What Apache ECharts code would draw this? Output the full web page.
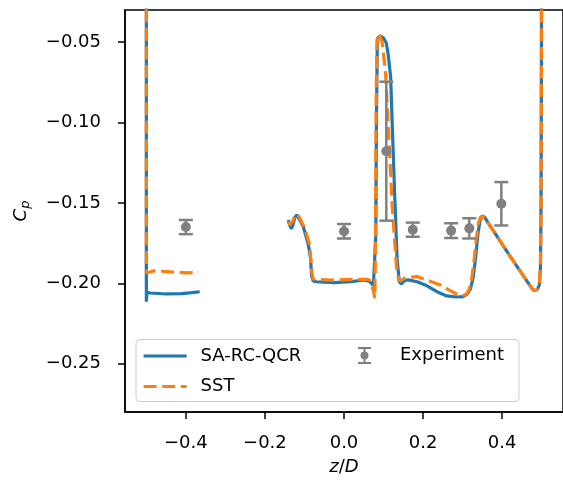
<!DOCTYPE html>
<html>
<head>
<meta charset="utf-8">
<script src="https://cdn.jsdelivr.net/npm/echarts@6/dist/echarts.min.js"></script>
<style>
  html, body { margin: 0; padding: 0; background: #fff; }
  #chart { width: 563px; height: 483px; }
</style>
</head>
<body>
<div id="chart"></div>
<script>
// Cp along z/D

// SA-RC-QCR, left part (x = -0.5 wall and the short tail)
var saLeftZ  = [-0.5, -0.5, -0.4985, -0.49, -0.45, -0.41, -0.385, -0.365];
var saLeftCp = [1.0, -0.2114, -0.2056, -0.2060, -0.2066, -0.2064, -0.2058, -0.2052];

// SA-RC-QCR, right part
var saRightZ = [-0.141, -0.137, -0.133, -0.129, -0.124, -0.119, -0.114, -0.103, -0.091, -0.085,
  -0.0817, -0.078, -0.07, -0.05, -0.024, 0.0176, 0.051, 0.0636, 0.0744, 0.078,
  0.0805, 0.082, 0.0844, 0.0927, 0.1, 0.107, 0.112, 0.118, 0.1228, 0.1287,
  0.1345, 0.14, 0.1453, 0.152, 0.162, 0.185, 0.21, 0.235, 0.26, 0.285,
  0.302, 0.312, 0.32, 0.327, 0.333, 0.339, 0.344, 0.35, 0.356, 0.365,
  0.42, 0.477, 0.483, 0.49, 0.494, 0.497, 0.4985, 0.4995, 0.5];
var saRightCp = [-0.1606, -0.1640, -0.1660, -0.1635, -0.1590, -0.1573, -0.1585, -0.1648, -0.1751, -0.1834,
  -0.1959, -0.1985, -0.1990, -0.1993, -0.1996, -0.1989, -0.1979, -0.1986, -0.2013, -0.2005,
  -0.17, -0.10, -0.0476, -0.0462, -0.0475, -0.0505, -0.058, -0.0715, -0.1067, -0.1482,
  -0.1855, -0.1990, -0.2003, -0.1985, -0.1978, -0.1990, -0.2015, -0.2052, -0.2078, -0.2085,
  -0.2082, -0.2065, -0.2035, -0.1960, -0.1840, -0.1689, -0.1610, -0.1581, -0.1590, -0.1625,
  -0.1830, -0.2037, -0.2046, -0.2035, -0.2010, -0.19, -0.15, -0.05, 1.0];

// SST, left part
var sstLeftZ  = [-0.5, -0.5, -0.497, -0.48, -0.44, -0.40, -0.368];
var sstLeftCp = [1.0, -0.1936, -0.1925, -0.1922, -0.1928, -0.1935, -0.1932];

// SST, right part
var sstRightZ = [-0.141, -0.137, -0.134, -0.129, -0.124, -0.118, -0.112, -0.0992, -0.0867, -0.0826,
  -0.079, -0.07, -0.03, 0.02, 0.06, 0.068, 0.0755, 0.0778, 0.079, 0.08,
  0.0815, 0.0835, 0.0869, 0.0915, 0.0969, 0.1052, 0.1137, 0.122, 0.1327, 0.1387,
  0.145, 0.152, 0.168, 0.185, 0.21, 0.243, 0.265, 0.285, 0.3, 0.31,
  0.316, 0.322, 0.328, 0.334, 0.34, 0.346, 0.351, 0.357, 0.365, 0.42,
  0.477, 0.483, 0.49, 0.494, 0.497, 0.4985, 0.4995, 0.5];
var sstRightCp = [-0.1617, -0.1637, -0.1640, -0.1610, -0.1578, -0.1569, -0.1595, -0.1658, -0.1761, -0.1896,
  -0.1972, -0.1975, -0.1980, -0.1975, -0.1975, -0.1985, -0.2060, -0.2093, -0.19, -0.15,
  -0.08, -0.05, -0.0445, -0.0465, -0.0507, -0.0694, -0.1108, -0.1523, -0.1896, -0.1980,
  -0.1985, -0.1968, -0.1962, -0.1958, -0.1980, -0.2010, -0.2040, -0.2066, -0.2079, -0.2065,
  -0.2040, -0.1990, -0.1880, -0.1740, -0.1625, -0.1585, -0.1580, -0.1592, -0.1625, -0.1830,
  -0.2037, -0.2046, -0.2035, -0.2010, -0.19, -0.15, -0.05, 1.0];

// experiment with error bars (half width)
var expZ   = [-0.4, 0.0, 0.107, 0.174, 0.271, 0.317, 0.398];
var expCp  = [-0.1650, -0.1676, -0.1178, -0.1666, -0.1672, -0.1658, -0.1505];
var expErr = [0.0044, 0.0045, 0.0432, 0.0044, 0.0046, 0.0063, 0.0135];

var xTicks = [-0.4, -0.2, 0.0, 0.2, 0.4];
var yTicks = [-0.25, -0.20, -0.15, -0.10, -0.05];

var FONT = 'DejaVu Sans';
var BLUE = '#1f77b4';
var ORANGE = '#ff7f0e';
var GRAY = '#808080';

function pairs(zs, cps) {
  return zs.map(function(z, i) { return [z, cps[i]]; });
}

function minusSign(s) {
  return s.replace('-', '\u2212');
}

function renderErrorBar(params, api) {
  var x = api.value(0);
  var lo = api.coord([x, api.value(1)]);
  var hi = api.coord([x, api.value(2)]);
  var w = 7;
  var style = { stroke: GRAY, lineWidth: 2.5, fill: null };
  return {
    type: 'group',
    children: [
      { type: 'line', shape: { x1: hi[0], y1: hi[1], x2: lo[0], y2: lo[1] }, style: style },
      { type: 'line', shape: { x1: hi[0] - w, y1: hi[1], x2: hi[0] + w, y2: hi[1] }, style: style },
      { type: 'line', shape: { x1: lo[0] - w, y1: lo[1], x2: lo[0] + w, y2: lo[1] }, style: style }
    ]
  };
}

var errData = expZ.map(function(z, i) { return [z, expCp[i] - expErr[i], expCp[i] + expErr[i]]; });

var errIcon = 'path://M0,0H13V2H0Z M0,15H13V17H0Z M5.5,0H7.5V17H5.5Z ' +
  'M2.5,8.5A4,4 0 0,1 10.5,8.5A4,4 0 0,1 2.5,8.5Z';

var saLine = { color: BLUE, width: 3.2 };
var sstLine = { color: ORANGE, width: 3.2, type: [13, 5.6] };

var chart = echarts.init(document.getElementById('chart'), null, { renderer: 'canvas' });

chart.setOption({
  animation: false,
  backgroundColor: '#fff',
  textStyle: { fontFamily: FONT },
  grid: {
    left: 125, top: 10, width: 442.4, height: 402,
    containLabel: false,
    show: true, borderColor: '#000', borderWidth: 1.5, backgroundColor: 'transparent'
  },
  legend: [
    {
      orient: 'vertical', left: 142, top: 347, padding: 0,
      itemWidth: 43, itemHeight: 14, itemGap: 12.5,
      itemStyle: { opacity: 0 },
      lineStyle: { width: 3.2 },
      textStyle: { fontFamily: FONT, fontSize: 18, color: '#000', padding: [0, 0, 0, 9] },
      data: [{ name: 'SA-RC-QCR' }, { name: 'SST' }]
    },
    {
      orient: 'vertical', left: 358, top: 346.5, padding: 0,
      itemWidth: 43, itemHeight: 17,
      textStyle: { fontFamily: FONT, fontSize: 18, color: '#000', padding: [0, 0, 0, 9] },
      data: [{ name: 'Experiment', icon: errIcon, itemStyle: { color: GRAY } }]
    }
  ],
  graphic: [{
    type: 'rect', z: 3,
    shape: { x: 136, y: 339.5, width: 383, height: 62, r: 4 },
    style: { fill: 'rgba(255,255,255,0.8)', stroke: '#cccccc', lineWidth: 1 }
  }],
  xAxis: {
    type: 'value', min: -0.554, max: 0.554,
    name: '{i|z}/{i|D}', nameLocation: 'middle', nameGap: 46,
    nameTextStyle: {
      fontFamily: FONT, fontSize: 18, color: '#000',
      rich: { i: { fontFamily: FONT, fontSize: 18, fontStyle: 'italic', color: '#000' } }
    },
    axisLine: { show: true, onZero: false, lineStyle: { color: '#000', width: 1.5 } },
    axisTick: { show: true, length: 7, lineStyle: { color: '#000', width: 1.5 }, customValues: xTicks },
    axisLabel: {
      fontFamily: FONT, fontSize: 18, color: '#000', margin: 22,
      customValues: xTicks,
      formatter: function(v) { return minusSign(v.toFixed(1)); }
    },
    splitLine: { show: false }
  },
  yAxis: {
    type: 'value', min: -0.28, max: -0.03,
    name: '{c|C}{p|p}', nameLocation: 'middle', nameGap: 93, nameRotate: 90,
    nameTextStyle: {
      fontFamily: FONT, fontSize: 18, color: '#000',
      rich: {
        c: { fontFamily: FONT, fontSize: 18, fontStyle: 'italic', color: '#000' },
        p: { fontFamily: FONT, fontSize: 13, fontStyle: 'italic', color: '#000', padding: [9, 0, 0, 0] }
      }
    },
    axisLine: { show: true, onZero: false, lineStyle: { color: '#000', width: 1.5 } },
    axisTick: { show: true, length: 7, lineStyle: { color: '#000', width: 1.5 }, customValues: yTicks },
    axisLabel: {
      fontFamily: FONT, fontSize: 18, color: '#000', margin: 24,
      customValues: yTicks,
      formatter: function(v) { return minusSign(v.toFixed(2)); }
    },
    splitLine: { show: false }
  },
  series: [
    { name: 'SA-RC-QCR', type: 'line', data: pairs(saLeftZ, saLeftCp), symbol: 'none', lineStyle: saLine, itemStyle: { color: BLUE }, z: 2, clip: true },
    { name: 'SA-RC-QCR', type: 'line', data: pairs(saRightZ, saRightCp), symbol: 'none', lineStyle: saLine, itemStyle: { color: BLUE }, z: 2, clip: true },
    { name: 'SST', type: 'line', data: pairs(sstLeftZ, sstLeftCp), symbol: 'none', lineStyle: sstLine, itemStyle: { color: ORANGE }, z: 3, clip: true },
    { name: 'SST', type: 'line', data: pairs(sstRightZ, sstRightCp), symbol: 'none', lineStyle: sstLine, itemStyle: { color: ORANGE }, z: 3, clip: true },
    {
      name: 'Experiment', type: 'custom', renderItem: renderErrorBar,
      data: errData, encode: { x: 0, y: [1, 2] }, z: 4, clip: true,
      itemStyle: { color: GRAY }
    },
    {
      name: 'Experiment', type: 'scatter', data: pairs(expZ, expCp),
      symbol: 'circle', symbolSize: 10, itemStyle: { color: GRAY, opacity: 1 }, z: 5
    }
  ]
});
</script>
</body>
</html>
